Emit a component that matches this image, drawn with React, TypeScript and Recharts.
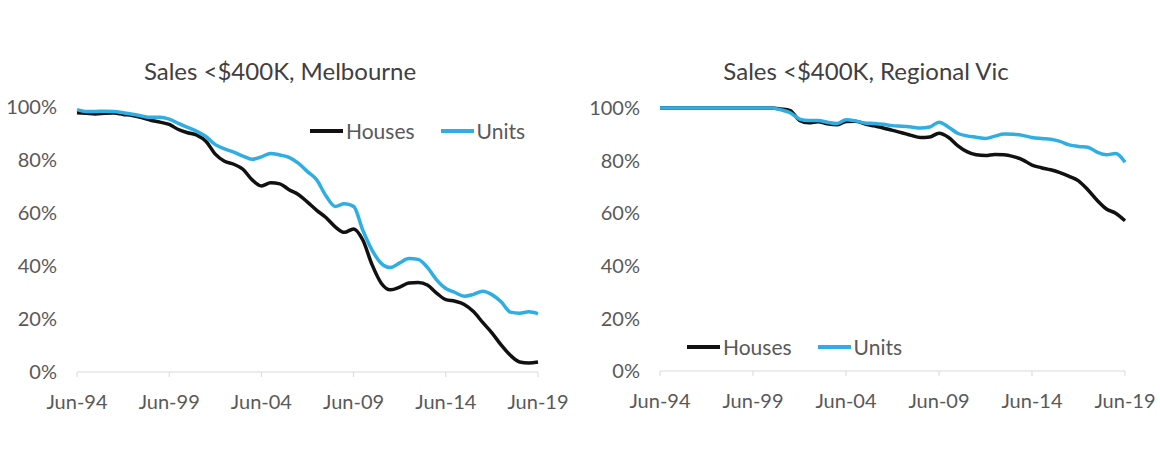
import { LineChart, Line, XAxis, YAxis, Legend } from 'recharts';

// half-yearly observations, Jun-94 .. Jun-19
const periods: string[] = [];
const months = ['Jun', 'Dec'];
for (let y = 1994; y <= 2019; y++) {
  for (const m of months) {
    if (y === 2019 && m === 'Dec') break;
    periods.push(`${m}-${String(y % 100).padStart(2, '0')}`);
  }
}

const melbHouses = [
  97.8, 97.6, 97.4, 97.6, 97.7, 97.2, 96.8, 96.0, 95.0, 94.3,
  93.4, 91.5, 90.3, 89.4, 87.0, 82.2, 79.5, 78.4, 76.5, 72.5,
  70.2, 71.4, 71.0, 68.8, 67.0, 64.1, 61.0, 58.3, 54.8, 52.7,
  54.0, 49.8, 40.5, 33.5, 31.0, 32.0, 33.6, 33.8, 32.8, 29.8,
  27.3, 26.7, 25.5, 22.8, 18.7, 14.8, 10.2, 6.3, 3.8, 3.4,
  3.8,
];
const melbUnits = [
  99.0, 98.3, 98.3, 98.4, 98.3, 97.8, 97.3, 96.6, 96.1, 96.1,
  95.4, 93.8, 92.3, 90.8, 88.8, 85.8, 84.2, 83.0, 81.5, 80.3,
  81.2, 82.5, 81.9, 81.0, 78.8, 75.6, 72.5, 66.5, 62.5, 63.5,
  62.5, 53.5, 46.0, 41.0, 39.4, 41.2, 42.8, 42.5, 39.5, 34.8,
  31.5, 30.0, 28.6, 29.3, 30.5, 29.2, 26.5, 22.6, 22.2, 22.7,
  22.0,
];
const regHouses = [
  100, 100, 100, 100, 100, 100, 100, 100, 100, 100,
  100, 100, 100, 99.6, 99.0, 95.3, 94.4, 94.8, 94.0, 93.6,
  94.9, 95.0, 94.0, 93.2, 92.4, 91.5, 90.6, 89.6, 88.8, 89.0,
  90.4, 88.9, 85.7, 83.4, 82.2, 81.9, 82.3, 82.2, 81.5, 80.3,
  78.3, 77.3, 76.5, 75.4, 74.0, 72.3, 68.9, 64.9, 61.6, 60.0,
  57.1,
];
const regUnits = [
  100, 100, 100, 100, 100, 100, 100, 100, 100, 100,
  100, 100, 100, 99.3, 98.2, 95.8, 95.2, 95.2, 94.6, 94.1,
  95.5, 95.1, 94.3, 94.1, 93.8, 93.3, 93.1, 92.8, 92.4, 92.8,
  94.6, 92.8, 90.4, 89.4, 88.9, 88.4, 89.3, 90.1, 90.0, 89.6,
  88.8, 88.4, 88.1, 87.3, 86.0, 85.4, 85.1, 83.2, 82.2, 82.7,
  79.4,
];

const yTicks = [0, 20, 40, 60, 80, 100];

const HOUSES = '#111111';
const UNITS = '#2eaee2';
const FONT = 'Lato, "Open Sans", sans-serif';
const TEXT = '#595959';

const melbData = periods.map((p, i) => ({ period: p, houses: melbHouses[i], units: melbUnits[i] }));
const regData = periods.map((p, i) => ({ period: p, houses: regHouses[i], units: regUnits[i] }));

const renderLegend = (props: any) => (
  <div style={{ display: 'flex', alignItems: 'center', fontFamily: FONT, fontSize: 21, color: TEXT }}>
    {props.payload.map((entry: any, i: number) => (
      <div key={entry.value} style={{ display: 'flex', alignItems: 'center', marginLeft: i ? 26 : 0 }}>
        <span style={{ display: 'inline-block', width: 33, height: 4, background: entry.color, marginRight: 3 }} />
        <span>{entry.value}</span>
      </div>
    ))}
  </div>
);

interface PanelProps {
  data: { period: string; houses: number; units: number }[];
  margin: { top: number; right: number; bottom: number; left: number };
  legendPos: { top: number; left: number };
}

function Panel({ data, margin, legendPos }: PanelProps) {
  return (
    <LineChart width={580} height={464} data={data} margin={margin}>
      <XAxis
        dataKey="period"
        interval={9}
        height={40}
        axisLine={{ stroke: '#d9d9d9' }}
        tickLine={{ stroke: '#d9d9d9' }}
        tickSize={5}
        tickMargin={18}
        tick={{ fill: TEXT, fontSize: 20, fontFamily: FONT }}
      />
      <YAxis
        domain={[0, 100]}
        ticks={yTicks}
        width={60}
        axisLine={false}
        tickLine={false}
        tickSize={0}
        tickMargin={20}
        tickFormatter={(v) => `${v}%`}
        tick={{ fill: TEXT, fontSize: 20, fontFamily: FONT }}
      />
      <Legend
        content={renderLegend}
        verticalAlign="middle"
        layout="horizontal"
        wrapperStyle={{ top: legendPos.top, left: legendPos.left, width: 'auto' }}
      />
      <Line type="monotone" dataKey="houses" name="Houses" stroke={HOUSES} strokeWidth={3.5} dot={false} isAnimationActive={false} />
      <Line type="monotone" dataKey="units" name="Units" stroke={UNITS} strokeWidth={3.5} dot={false} isAnimationActive={false} />
    </LineChart>
  );
}

const titleStyle = {
  position: 'absolute' as const,
  top: 56,
  fontFamily: FONT,
  fontSize: 24,
  color: '#404040',
  textAlign: 'center' as const,
  width: 400,
};

export default function App() {
  return (
    <div style={{ position: 'relative', width: 1160, height: 464, background: '#fff' }}>
      <style>{'body{margin:0}'}</style>
      <div style={{ ...titleStyle, left: 280 - 200 }}>Sales &lt;$400K, Melbourne</div>
      <div style={{ ...titleStyle, left: 866 - 200 }}>Sales &lt;$400K, Regional Vic</div>
      <div style={{ position: 'absolute', left: 0, top: 0 }}>
        <Panel data={melbData} margin={{ top: 107, right: 42, bottom: 52, left: 17 }} legendPos={{ top: 118, left: 310 }} />
      </div>
      <div style={{ position: 'absolute', left: 580, top: 0 }}>
        <Panel data={regData} margin={{ top: 108, right: 35, bottom: 53, left: 20 }} legendPos={{ top: 334, left: 107 }} />
      </div>
    </div>
  );
}
